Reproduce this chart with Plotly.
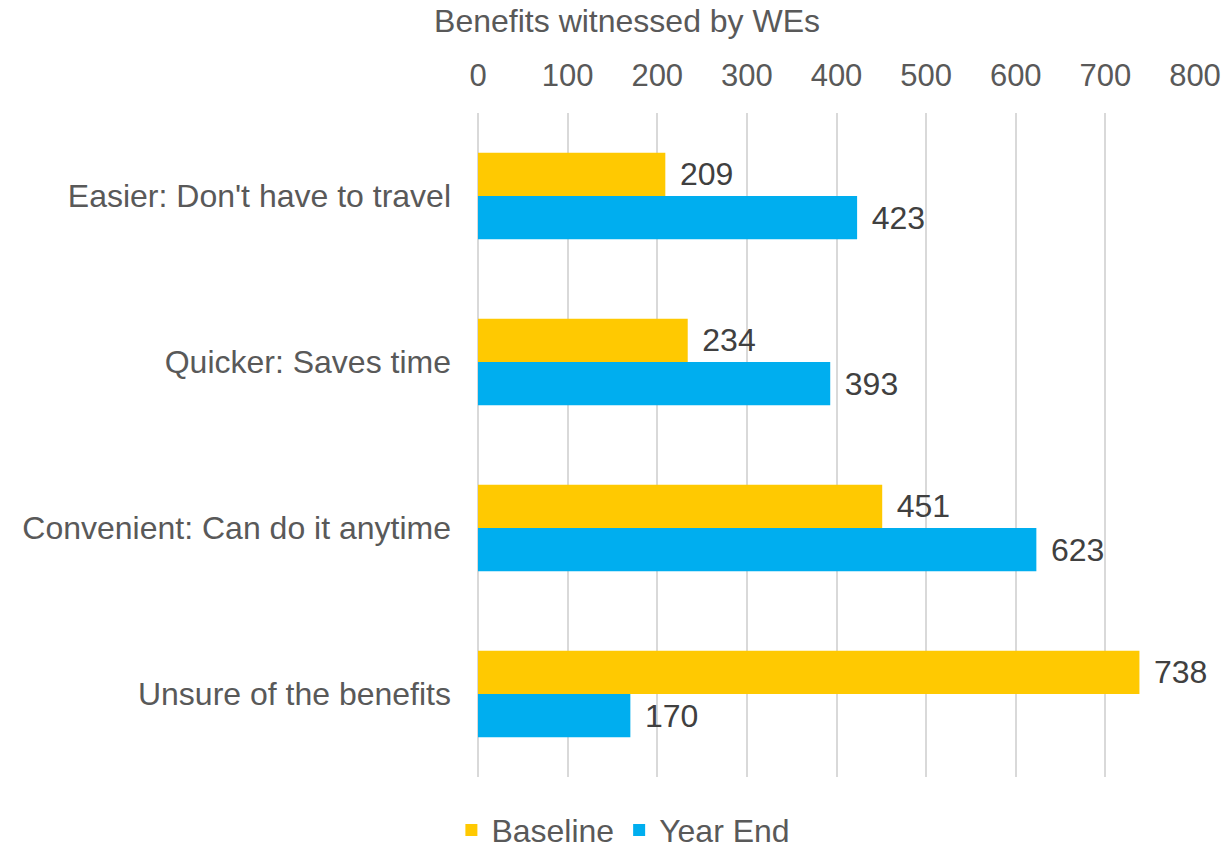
import plotly.graph_objects as go

categories = ["Easier: Don't have to travel", "Quicker: Saves time",
              "Convenient: Can do it anytime", "Unsure of the benefits"]
baseline = [209, 234, 451, 738]
year_end = [423, 393, 623, 170]
tick_vals = [0, 100, 200, 300, 400, 500, 600, 700, 800]

FONT = "Liberation Sans, Arial, sans-serif"
TEXT_GREY = "#595959"
LABEL_FONT = dict(family=FONT, size=32, color="#404040")

fig = go.Figure()
fig.add_trace(go.Bar(
    name="Baseline", y=categories, x=baseline, orientation="h",
    marker=dict(color="#FFC901", line=dict(width=0)),
    texttemplate=" \u200a%{x}", textposition="outside", textfont=LABEL_FONT,
    cliponaxis=False,
))
fig.add_trace(go.Bar(
    name="Year End", y=categories, x=year_end, orientation="h",
    marker=dict(color="#00AEEF", line=dict(width=0)),
    texttemplate=" \u200a%{x}", textposition="outside", textfont=LABEL_FONT,
    cliponaxis=False,
))

fig.update_layout(
    width=1232, height=848,
    margin=dict(l=478, r=37, t=113, b=71, autoexpand=False),
    paper_bgcolor="white", plot_bgcolor="white",
    barmode="group", bargap=0.48, bargroupgap=0,
    font=dict(family=FONT, size=32, color=TEXT_GREY),
    title=dict(text="Benefits witnessed by WEs", xref="container", yref="container",
               x=0.509, xanchor="center", y=0.976, yanchor="middle",
               font=dict(family=FONT, size=32, color=TEXT_GREY)),
    showlegend=True,
    legend=dict(orientation="h", xref="container", x=0.506, xanchor="center",
                y=-0.08, yanchor="middle",
                font=dict(family=FONT, size=32, color=TEXT_GREY),
                itemwidth=30, traceorder="normal"),
    xaxis=dict(
        side="top", range=[0, 800], tickvals=tick_vals,
        showgrid=True, gridcolor="#D9D9D9", gridwidth=2,
        zeroline=True, zerolinecolor="#D9D9D9", zerolinewidth=2,
        showline=False, ticks="", ticklen=0, ticklabelstandoff=20,
        tickfont=dict(family=FONT, size=31, color=TEXT_GREY),
    ),
    yaxis=dict(
        autorange="reversed", showgrid=False, showline=False, ticks="",
        ticklabelstandoff=26,
        tickfont=dict(family=FONT, size=32, color=TEXT_GREY),
    ),
)

fig.write_html("out.html")
